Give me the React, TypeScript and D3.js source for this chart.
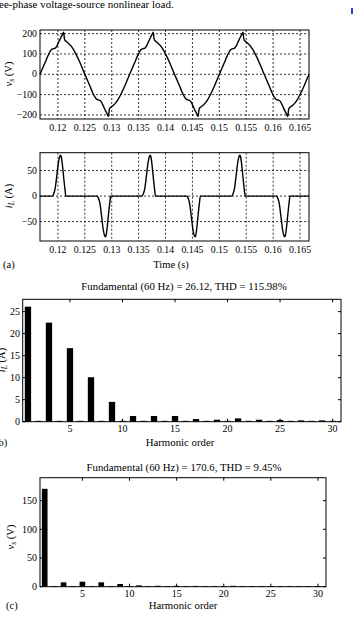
import React from "react";
import * as d3 from "d3";

const W = 353;
const H = 624;
const FONT = "'Liberation Serif', serif";

// time axis (s)
const timeTicks = [0.12, 0.125, 0.13, 0.135, 0.14, 0.145, 0.15, 0.155, 0.16, 0.165];
const timeTickLabels = ["0.12", "0.125", "0.13", "0.135", "0.14", "0.145", "0.15", "0.155", "0.16", "0.165"];
const vsTicks = [-200, -100, 0, 100, 200];
const iLTicks = [-50, 0, 50];

// source voltage v_s (t, V) (a) top
const vsWave: [number, number][] = [
  [0.11667, 0], [0.11717, 31], [0.11762, 58], [0.11807, 87], [0.11852, 111], [0.11882, 122], [0.11917, 126], [0.11952, 129], [0.11982, 140], [0.12017, 160], [0.12052, 180], [0.12082, 195], [0.12107, 207], [0.12119, 178], [0.12129, 168], [0.12162, 160], [0.12197, 152], [0.12232, 143], [0.12287, 123], [0.12347, 93], [0.12407, 59], [0.12467, 21],
  [0.125, 0], [0.1255, -31], [0.12595, -58], [0.1264, -87], [0.12685, -111], [0.12715, -122], [0.1275, -126], [0.12785, -129], [0.12815, -140], [0.1285, -160], [0.12885, -180], [0.12915, -195], [0.1294, -207], [0.12952, -178], [0.12962, -168], [0.12995, -160], [0.1303, -152], [0.13065, -143], [0.1312, -123], [0.1318, -93], [0.1324, -59], [0.133, -21],
  [0.13333, 0], [0.13383, 31], [0.13428, 58], [0.13473, 87], [0.13518, 111], [0.13548, 122], [0.13583, 126], [0.13618, 129], [0.13648, 140], [0.13683, 160], [0.13718, 180], [0.13748, 195], [0.13773, 207], [0.13785, 178], [0.13795, 168], [0.13828, 160], [0.13863, 152], [0.13898, 143], [0.13953, 123], [0.14013, 93], [0.14073, 59], [0.14133, 21],
  [0.14167, 0], [0.14217, -31], [0.14262, -58], [0.14307, -87], [0.14352, -111], [0.14382, -122], [0.14417, -126], [0.14452, -129], [0.14482, -140], [0.14517, -160], [0.14552, -180], [0.14582, -195], [0.14607, -207], [0.14619, -178], [0.14629, -168], [0.14662, -160], [0.14697, -152], [0.14732, -143], [0.14787, -123], [0.14847, -93], [0.14907, -59], [0.14967, -21],
  [0.15, 0], [0.1505, 31], [0.15095, 58], [0.1514, 87], [0.15185, 111], [0.15215, 122], [0.1525, 126], [0.15285, 129], [0.15315, 140], [0.1535, 160], [0.15385, 180], [0.15415, 195], [0.1544, 207], [0.15452, 178], [0.15462, 168], [0.15495, 160], [0.1553, 152], [0.15565, 143], [0.1562, 123], [0.1568, 93], [0.1574, 59], [0.158, 21],
  [0.15833, 0], [0.15883, -31], [0.15928, -58], [0.15973, -87], [0.16018, -111], [0.16048, -122], [0.16083, -126], [0.16118, -129], [0.16148, -140], [0.16183, -160], [0.16218, -180], [0.16248, -195], [0.16273, -207], [0.16285, -178], [0.16295, -168], [0.16328, -160], [0.16363, -152], [0.16398, -143], [0.16453, -123], [0.16513, -93], [0.16573, -59], [0.16633, -21],
  [0.16667, 0],
];

// load current i_L (t, A) (a) bottom
const iLWave: [number, number][] = [
  [0.11667, 0], [0.11892, 0], [0.1192, 4], [0.11947, 14], [0.11977, 38], [0.12007, 64], [0.12032, 77], [0.12047, 80], [0.12062, 77], [0.12082, 62], [0.12107, 36], [0.12132, 12], [0.12147, 0],
  [0.125, 0], [0.12725, 0], [0.12753, -4], [0.1278, -14], [0.1281, -38], [0.1284, -64], [0.12865, -77], [0.1288, -80], [0.12895, -77], [0.12915, -62], [0.1294, -36], [0.12965, -12], [0.1298, 0],
  [0.13333, 0], [0.13558, 0], [0.13586, 4], [0.13613, 14], [0.13643, 38], [0.13673, 64], [0.13698, 77], [0.13713, 80], [0.13728, 77], [0.13748, 62], [0.13773, 36], [0.13798, 12], [0.13813, 0],
  [0.14167, 0], [0.14392, 0], [0.1442, -4], [0.14447, -14], [0.14477, -38], [0.14507, -64], [0.14532, -77], [0.14547, -80], [0.14562, -77], [0.14582, -62], [0.14607, -36], [0.14632, -12], [0.14647, 0],
  [0.15, 0], [0.15225, 0], [0.15253, 4], [0.1528, 14], [0.1531, 38], [0.1534, 64], [0.15365, 77], [0.1538, 80], [0.15395, 77], [0.15415, 62], [0.1544, 36], [0.15465, 12], [0.1548, 0],
  [0.15833, 0], [0.16058, 0], [0.16086, -4], [0.16113, -14], [0.16143, -38], [0.16173, -64], [0.16198, -77], [0.16213, -80], [0.16228, -77], [0.16248, -62], [0.16273, -36], [0.16298, -12], [0.16313, 0],
  [0.16667, 0],
];

// harmonic spectra
const harmonicOrders = [1, 2, 3, 4, 5, 6, 7, 8, 9, 10, 11, 12, 13, 14, 15, 16, 17, 18, 19, 20, 21, 22, 23, 24, 25, 26, 27, 28, 29, 30];
const harmonicTicks = [5, 10, 15, 20, 25, 30];
const iLHarmonics = [26.12, 0.2, 22.5, 0.2, 16.7, 0.2, 10.1, 0.2, 4.5, 0.2, 1.3, 0.2, 1.3, 0.2, 1.3, 0.2, 0.6, 0.2, 0.45, 0.2, 0.75, 0.2, 0.45, 0.2, 0.4, 0.2, 0.3, 0.2, 0.3, 0.2];
const iLHarmTicks = [0, 5, 10, 15, 20, 25];
const vsHarmonics = [170.6, 0.5, 7.6, 0.5, 8.7, 0.5, 7.6, 0.5, 4.7, 0.5, 2.3, 0.5, 1.6, 0.5, 1.5, 0.5, 1.4, 0.5, 1.0, 0.5, 1.5, 0.5, 0.8, 0.5, 0.8, 0.5, 0.6, 0.5, 0.6, 0.5];
const vsHarmTicks = [0, 50, 100, 150];

const fmt = (n: number) => (n < 0 ? "\u2212" + Math.abs(n) : String(n));

function WavePanel({ top, bottom, yDomain, yTicks, data }: any) {
  const left = 40;
  const right = 309;
  const x = d3.scaleLinear().domain([7 / 60, 10 / 60]).range([left, right]);
  const y = d3.scaleLinear().domain(yDomain).range([bottom, top]);
  const line = d3
    .line<[number, number]>()
    .x((d) => x(d[0]))
    .y((d) => y(d[1]))
    .curve(d3.curveMonotoneX);
  return (
    <g>
      {timeTicks.map((t) => (
        <line key={"gx" + t} x1={x(t)} x2={x(t)} y1={top} y2={bottom} stroke="#000" strokeWidth={0.8} strokeDasharray="2,2" />
      ))}
      {yTicks.map((v: number) => (
        <line key={"gy" + v} x1={left} x2={right} y1={y(v)} y2={y(v)} stroke="#000" strokeWidth={0.8} strokeDasharray="2,2" />
      ))}
      <path d={line(data) || ""} fill="none" stroke="#000" strokeWidth={1.4} />
      <rect x={left} y={top} width={right - left} height={bottom - top} fill="none" stroke="#000" strokeWidth={1} />
      {timeTicks.map((t, i) => (
        <text key={"lx" + t} x={x(t)} y={bottom + 12} textAnchor="middle" fontSize={9.8}>
          {timeTickLabels[i]}
        </text>
      ))}
      {yTicks.map((v: number) => (
        <text key={"ly" + v} x={left - 3} y={y(v) + 3.2} textAnchor="end" fontSize={9.8}>
          {fmt(v)}
        </text>
      ))}
    </g>
  );
}

function BarPanel({ left, right, top, bottom, xDomain, yDomain, values, yTicks, labelX }: any) {
  const x = d3.scaleLinear().domain(xDomain).range([left, right]);
  const y = d3.scaleLinear().domain(yDomain).range([bottom, top]);
  const bw = x(0.6) - x(0);
  const tk = 3;
  return (
    <g>
      {harmonicOrders.map((h, i) => (
        <rect key={"b" + h} x={x(h) - bw / 2} y={y(values[i])} width={bw} height={Math.max(0.6, bottom - y(values[i]))} fill="#000" />
      ))}
      <rect x={left} y={top} width={right - left} height={bottom - top} fill="none" stroke="#000" strokeWidth={1} />
      {harmonicTicks.map((h) => (
        <g key={"tx" + h}>
          <line x1={x(h)} x2={x(h)} y1={bottom} y2={bottom - tk} stroke="#000" />
          <line x1={x(h)} x2={x(h)} y1={top} y2={top + tk} stroke="#000" />
          <text x={x(h)} y={bottom + 10.5} textAnchor="middle" fontSize={10}>
            {h}
          </text>
        </g>
      ))}
      {yTicks.map((v: number) => (
        <g key={"ty" + v}>
          <line x1={left} x2={left + tk} y1={y(v)} y2={y(v)} stroke="#000" />
          <line x1={right} x2={right - tk} y1={y(v)} y2={y(v)} stroke="#000" />
          <text x={labelX} y={y(v) + 3.3} textAnchor="end" fontSize={10}>
            {v}
          </text>
        </g>
      ))}
    </g>
  );
}

function AxisLabel({ x, y, main, sub, unit }: any) {
  return (
    <text transform={`translate(${x},${y}) rotate(-90)`} textAnchor="middle" fontSize={10.5}>
      <tspan fontStyle="italic">{main}</tspan>
      <tspan fontStyle="italic" fontSize={7.5} dy={2}>{sub}</tspan>
      <tspan dy={-2}>{" (" + unit + ")"}</tspan>
    </text>
  );
}

export default function App() {
  return (
    <svg width={W} height={H} style={{ position: "absolute", left: 0, top: 0, background: "#fff" }} fontFamily={FONT} fill="#000">
      <rect width={W} height={H} fill="#fff" />
      <text x={-1} y={7.5} fontSize={11}>ee-phase voltage-source nonlinear load.</text>
      <rect x={351} y={8} width={2} height={6} fill="#2a3fd0" />

      {/* (a) waveforms */}
      <WavePanel top={30} bottom={119} yDomain={[-220, 218]} yTicks={vsTicks} data={vsWave} />
      <AxisLabel x={12} y={74} main="v" sub="s" unit="V" />
      <WavePanel top={152.7} bottom={241} yDomain={[-88, 85]} yTicks={iLTicks} data={iLWave} />
      <AxisLabel x={12} y={196} main="i" sub="L" unit="A" />
      <text x={171} y={268} textAnchor="middle" fontSize={10.5}>Time (s)</text>
      <text x={3} y={268} fontSize={10.5}>(a)</text>

      {/* (b) load current spectrum */}
      <text x={184} y={290} textAnchor="middle" fontSize={10.8}>Fundamental (60 Hz) = 26.12, THD = 115.98%</text>
      <BarPanel left={22.7} right={341} top={299.3} bottom={421.7} xDomain={[0.5, 30.8]} yDomain={[0, 27.8]} values={iLHarmonics} yTicks={iLHarmTicks} labelX={20} />
      <AxisLabel x={5} y={360} main="i" sub="L" unit="A" />
      <text x={180} y={446} textAnchor="middle" fontSize={10.8}>Harmonic order</text>
      <text x={-5} y={446} fontSize={10.5}>(b)</text>

      {/* (c) source voltage spectrum */}
      <text x={184} y={471} textAnchor="middle" fontSize={10.8}>Fundamental (60 Hz) = 170.6, THD = 9.45%</text>
      <BarPanel left={40} right={326} top={477.7} bottom={586.7} xDomain={[0.5, 30.85]} yDomain={[0, 190]} values={vsHarmonics} yTicks={vsHarmTicks} labelX={37} />
      <AxisLabel x={14} y={537} main="v" sub="s" unit="V" />
      <text x={183} y={609} textAnchor="middle" fontSize={10.8}>Harmonic order</text>
      <text x={6} y={609} fontSize={10.5}>(c)</text>
    </svg>
  );
}
